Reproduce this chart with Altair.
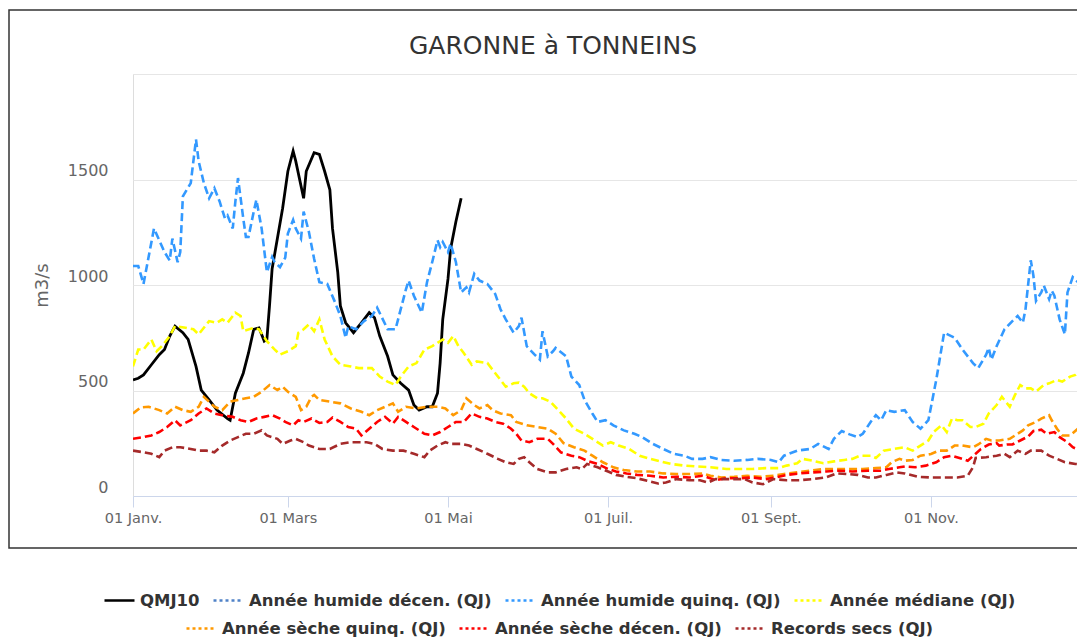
import json
import datetime as dt
import altair as alt
import pandas as pd

YEAR = 2023
TITLE = "GARONNE à TONNEINS"
Y_TITLE = "m3/s"
TICK_MONTHS = [1, 3, 5, 7, 9, 11]
TICK_LABELS = ["01 Janv.", "01 Mars", "01 Mai", "01 Juil.", "01 Sept.", "01 Nov."]
Y_TICKS = [0, 500, 1000, 1500, 2000]

ROW1 = ["QMJ10", "Année humide décen. (QJ)", "Année humide quinq. (QJ)", "Année médiane (QJ)"]
ROW1_COLORS = ["#000000", "#5082c8", "#3399ff", "#ffff00"]
ROW2 = ["Année sèche quinq. (QJ)", "Année sèche décen. (QJ)", "Records secs (QJ)"]
ROW2_COLORS = ["#ff9900", "#ff0000", "#a52a2a"]

QMJ10_DAYS = [0, 2, 4, 7, 10, 12, 14, 16, 19, 21, 24, 26, 29, 32, 36, 37, 39, 42, 44, 46, 48, 50, 51,
              52, 53, 55, 57, 59, 61, 62, 65, 66, 69, 71, 73, 75, 76, 78, 79, 81, 84, 87, 90, 92, 94,
              97, 99, 102, 105, 107, 109, 112, 114, 116, 117, 118, 120, 121, 123, 125]
QMJ10_VALS = [550, 558, 574, 622, 670, 694, 758, 805, 774, 742, 614, 502, 455, 407, 367, 359, 487, 582,
              678, 790, 797, 734, 742, 901, 1077, 1220, 1364, 1539, 1635, 1587, 1411, 1539, 1627, 1619,
              1539, 1451, 1268, 1061, 901, 821, 774, 821, 869, 845, 758, 662, 574, 534, 502, 431, 407,
              423, 423, 487, 630, 837, 1029, 1172, 1300, 1411]

HUMQ_DAYS = [0, 2, 4, 8, 12, 14, 15, 17, 18, 19, 22, 24, 25, 27, 29, 31, 33, 35, 36, 38, 39, 40, 42,
             43, 44, 46, 47, 49, 51, 53, 54, 56, 58, 59, 61, 62, 64, 65, 67, 69, 71, 74, 77, 79, 81,
             82, 85, 88, 91, 93, 97, 100, 104, 105, 107, 110, 112, 114, 116, 117, 118, 120, 121, 123,
             125, 127, 128, 130, 132, 135, 138, 140, 142, 145, 147, 148, 150, 153, 155, 156, 158, 160,
             161, 165, 167, 170, 172, 175, 177, 180, 183, 187, 191, 194, 198, 202, 206, 210, 213, 217,
             220, 224, 229, 234, 238, 243, 246, 248, 253, 258, 261, 265, 267, 270, 273, 276, 278, 281,
             283, 285, 287, 290, 294, 297, 300, 303, 306, 309, 313, 316, 320, 322, 325, 326, 327, 329,
             332, 335, 337, 339, 340, 342, 343, 344, 346, 347, 349, 350, 351, 353, 355, 356, 358, 360,
             364]
HUMQ_VALS = [1090, 1090, 1005, 1268, 1156, 1116, 1220, 1108, 1156, 1420, 1483, 1690, 1587, 1483, 1411,
             1459, 1396, 1316, 1330, 1268, 1396, 1507, 1316, 1228, 1228, 1348, 1404, 1268, 1061, 1133,
             1108, 1085, 1130, 1244, 1308, 1268, 1220, 1348, 1252, 1124, 1013, 1005, 917, 853, 750, 805,
             790, 829, 853, 893, 790, 790, 981, 1021, 949, 869, 1013, 1109, 1212, 1180, 1204, 1156, 1196,
             1109, 965, 989, 965, 1053, 1021, 1005, 957, 885, 837, 774, 805, 845, 710, 670, 646, 781, 662,
             686, 702, 662, 566, 526, 455, 391, 351, 359, 335, 311, 295, 279, 247, 223, 200, 191, 176,
             176, 184, 171, 167, 171, 176, 171, 160, 191, 215, 223, 247, 223, 271, 308, 292, 279, 295,
             351, 383, 359, 407, 399, 407, 351, 319, 359, 550, 774, 750, 694, 630, 606, 670, 702, 646,
             710, 790, 829, 853, 821, 885, 1117, 1045, 925, 965, 997, 933, 973, 949, 837, 766, 965, 1037,
             1013, 1005]

MED_DAYS = [0, 2, 4, 7, 9, 11, 14, 16, 20, 23, 25, 29, 32, 34, 36, 39, 41, 42, 46, 48, 51, 54, 56, 59,
            62, 63, 65, 67, 69, 71, 73, 76, 79, 83, 86, 91, 94, 97, 100, 102, 105, 108, 111, 114, 116,
            118, 120, 122, 124, 126, 129, 131, 135, 137, 140, 142, 145, 147, 149, 151, 154, 156, 159,
            162, 165, 168, 172, 176, 179, 182, 185, 189, 193, 197, 201, 205, 210, 215, 220, 226, 231,
            236, 241, 246, 249, 253, 255, 259, 263, 267, 271, 274, 277, 281, 283, 286, 290, 294, 297,
            300, 303, 305, 308, 310, 312, 314, 316, 319, 321, 324, 326, 329, 331, 334, 336, 338, 340,
            342, 344, 347, 349, 352, 354, 357, 359, 361, 364]
MED_VALS = [614, 694, 694, 742, 686, 710, 758, 805, 797, 790, 766, 829, 821, 837, 821, 869, 853, 781,
            797, 790, 734, 694, 670, 686, 710, 774, 790, 813, 781, 837, 742, 662, 622, 614, 606, 606,
            566, 542, 526, 566, 614, 630, 694, 710, 726, 742, 726, 758, 710, 678, 622, 638, 630, 598,
            550, 518, 534, 537, 518, 487, 463, 463, 447, 407, 367, 319, 295, 263, 239, 255, 239, 223,
            191, 176, 164, 152, 144, 140, 136, 128, 128, 128, 132, 132, 144, 155, 176, 167, 155, 164,
            171, 176, 191, 191, 180, 215, 223, 231, 215, 239, 263, 303, 335, 303, 367, 359, 359, 327,
            327, 343, 391, 431, 470, 423, 479, 526, 510, 510, 495, 526, 534, 550, 542, 566, 574, 598,
            598]

SECQ_DAYS = [0, 3, 6, 10, 13, 16, 19, 22, 25, 27, 31, 34, 37, 40, 43, 46, 49, 52, 55, 57, 59, 62, 64,
             66, 68, 69, 71, 75, 79, 83, 87, 90, 93, 96, 99, 101, 104, 108, 112, 116, 119, 122, 125,
             127, 130, 132, 135, 137, 140, 144, 146, 150, 154, 158, 161, 164, 168, 172, 175, 179, 183,
             187, 192, 197, 202, 207, 212, 217, 220, 224, 229, 234, 239, 244, 248, 253, 258, 263, 268,
             273, 278, 283, 287, 289, 292, 294, 297, 300, 304, 307, 310, 313, 316, 320, 322, 325, 327,
             330, 334, 336, 339, 341, 344, 346, 349, 350, 352, 354, 357, 360, 363]
SECQ_VALS = [391, 420, 423, 407, 391, 423, 407, 399, 423, 470, 423, 407, 447, 455, 463, 470, 494, 526,
             502, 518, 494, 470, 407, 423, 470, 479, 455, 447, 439, 415, 399, 383, 407, 423, 439, 399,
             423, 415, 423, 423, 415, 383, 407, 463, 431, 415, 431, 407, 391, 383, 351, 335, 327, 319,
             295, 251, 231, 215, 191, 160, 136, 123, 116, 116, 107, 104, 104, 107, 96, 88, 91, 96, 91,
             96, 104, 112, 120, 128, 128, 128, 128, 132, 136, 160, 176, 167, 171, 191, 199, 215, 215,
             239, 239, 231, 244, 271, 263, 263, 271, 287, 311, 335, 351, 367, 383, 359, 319, 287, 287,
             319, 359]

SECD_DAYS = [0, 4, 7, 10, 13, 16, 18, 22, 25, 28, 31, 34, 38, 41, 44, 47, 50, 53, 56, 58, 61, 63, 65,
             68, 71, 74, 76, 79, 82, 85, 87, 90, 93, 96, 99, 101, 104, 107, 111, 114, 117, 120, 123,
             126, 129, 132, 135, 138, 141, 144, 146, 148, 151, 154, 158, 160, 163, 167, 170, 173, 177,
             181, 184, 188, 192, 197, 202, 207, 212, 217, 219, 222, 226, 231, 236, 241, 245, 249, 254,
             259, 264, 269, 274, 280, 285, 288, 292, 294, 298, 302, 306, 309, 312, 316, 318, 321, 323,
             326, 329, 330, 333, 335, 338, 341, 343, 346, 348, 351, 353, 356, 358, 361, 364]
SECD_VALS = [271, 279, 287, 303, 327, 359, 335, 359, 391, 415, 391, 383, 375, 359, 351, 367, 375, 383,
             367, 351, 335, 359, 351, 367, 346, 351, 372, 351, 327, 319, 287, 319, 351, 375, 343, 375,
             351, 327, 295, 287, 303, 327, 351, 351, 391, 375, 367, 351, 343, 319, 295, 263, 255, 271,
             271, 247, 207, 191, 184, 167, 152, 128, 116, 107, 100, 96, 88, 91, 88, 96, 88, 75, 84, 84,
             88, 80, 88, 100, 107, 112, 116, 120, 116, 120, 120, 128, 136, 140, 136, 144, 160, 184, 191,
             176, 167, 200, 223, 244, 251, 239, 244, 244, 263, 282, 308, 314, 295, 303, 279, 255, 231,
             215, 215]

REC_DAYS = [0, 4, 7, 10, 12, 15, 18, 22, 25, 28, 31, 34, 37, 40, 43, 46, 49, 51, 55, 57, 60, 62, 65,
            67, 71, 75, 79, 83, 86, 89, 92, 95, 99, 103, 107, 111, 113, 116, 119, 121, 125, 128, 131,
            135, 139, 142, 145, 147, 149, 151, 154, 158, 161, 165, 169, 171, 173, 177, 181, 184, 188,
            192, 196, 200, 203, 207, 212, 216, 219, 222, 227, 233, 236, 240, 244, 249, 254, 259, 264,
            268, 272, 276, 280, 283, 287, 291, 294, 299, 304, 309, 314, 318, 320, 321, 325, 329, 332,
            334, 337, 340, 342, 346, 349, 352, 355, 359, 363]
REC_VALS = [215, 207, 200, 184, 215, 231, 231, 223, 215, 215, 207, 239, 263, 279, 295, 295, 311, 287,
            271, 247, 263, 271, 255, 239, 223, 223, 247, 255, 255, 255, 247, 223, 215, 215, 200, 184,
            215, 239, 255, 247, 247, 239, 223, 200, 176, 160, 152, 176, 184, 160, 128, 112, 112, 128,
            136, 128, 152, 136, 116, 100, 91, 84, 72, 59, 64, 80, 75, 75, 64, 80, 80, 80, 64, 56, 80,
            75, 75, 80, 88, 107, 104, 100, 88, 88, 100, 112, 107, 91, 88, 88, 88, 96, 136, 180, 184,
            191, 200, 184, 215, 200, 215, 215, 191, 176, 160, 152, 148]

SERIES = {
    ROW1[0]: (QMJ10_DAYS, QMJ10_VALS),
    ROW1[2]: (HUMQ_DAYS, HUMQ_VALS),
    ROW1[3]: (MED_DAYS, MED_VALS),
    ROW2[0]: (SECQ_DAYS, SECQ_VALS),
    ROW2[1]: (SECD_DAYS, SECD_VALS),
    ROW2[2]: (REC_DAYS, REC_VALS),
}

start = dt.date(YEAR, 1, 1)
records = []
for name, (days, vals) in SERIES.items():
    for d, v in zip(days, vals):
        records.append({"date": (start + dt.timedelta(days=d)).isoformat(), "serie": name, "value": v})
df = pd.DataFrame(records)


def dtm(m, d, h=0, mi=0):
    return alt.DateTime(year=YEAR, month=m, date=d, hours=h, minutes=mi, utc=True)


month_labels = [""] * 12
for m, lab in zip(TICK_MONTHS, TICK_LABELS):
    month_labels[m - 1] = lab
x_label_expr = json.dumps(month_labels, ensure_ascii=False) + "[utcmonth(datum.value)]"

FONT = "DejaVu Sans"

x_enc = alt.X(
    "date:T",
    scale=alt.Scale(type="utc", domain=[dtm(1, 1), dtm(12, 26, 14, 53)]),
    axis=alt.Axis(
        values=[dtm(m, 1) for m in TICK_MONTHS],
        labelExpr=x_label_expr,
        title=None,
        grid=False,
        domainColor="#ccd6eb",
        tickColor="#ccd6eb",
        tickSize=11,
        labelColor="#666666",
        labelFont=FONT,
        labelFontSize=14.5,
        labelPadding=4,
        labelAngle=0,
        labelFlush=False,
        labelOverlap=False,
    ),
)

y_enc = alt.Y(
    "value:Q",
    scale=alt.Scale(domain=[0, 2000], nice=False, zero=True),
    axis=alt.Axis(
        values=Y_TICKS,
        labelExpr="datum.value >= 2000 ? '' : '' + datum.value",
        title=Y_TITLE,
        titleX=-91,
        titleY=211,
        titleAngle=-90,
        titleAlign="center",
        titleBaseline="middle",
        titleFont=FONT,
        titleFontSize=18,
        titleFontWeight="normal",
        titleColor="#666666",
        domain=False,
        ticks=False,
        tickSize=0,
        gridColor="#e6e6e6",
        gridWidth=1,
        labelColor="#666666",
        labelFont=FONT,
        labelFontSize=16,
        labelPadding=25,
        labelBaseline="alphabetic",
        labelOffset=-4,
    ),
)

legend_common = dict(
    orient="none",
    direction="horizontal",
    title=None,
    symbolType="stroke",
    symbolSize=900,
    symbolStrokeWidth=2.6,
    labelFont=FONT,
    labelFontSize=16.5,
    labelFontWeight="bold",
    labelColor="#333333",
    labelOffset=4,
    columnPadding=8,
    padding=0,
    labelLimit=400,
)

legend1 = alt.Legend(
    legendX=-30,
    legendY=510,
    symbolDash={"expr": "datum.value == 'QMJ10' ? [1, 0] : [3, 3]"},
    **legend_common,
)
legend2 = alt.Legend(legendX=52, legendY=538, symbolDash=[3, 3], **legend_common)

color_enc = alt.Color("serie:N", scale=alt.Scale(domain=ROW1, range=ROW1_COLORS), legend=legend1)
stroke_enc = alt.Stroke("serie:N", scale=alt.Scale(domain=ROW2, range=ROW2_COLORS), legend=legend2)

base = alt.Chart(df)

frame = alt.Chart(alt.Data(values=[{"k": 1}])).mark_rect(
    fill="transparent", stroke="#333333", strokeWidth=1.5
).encode(
    x=alt.value(-124), x2=alt.value(1000), y=alt.value(-64), y2=alt.value(474)
)

qmj = base.transform_filter(alt.datum.serie == ROW1[0]).mark_line(
    strokeWidth=2.8, clip=True
).encode(x=x_enc, y=y_enc, color=color_enc, detail="serie:N")

row1_dash = base.transform_filter(
    alt.FieldOneOfPredicate(field="serie", oneOf=ROW1[1:])
).mark_line(strokeWidth=2.6, strokeDash=[8, 4], clip=True).encode(
    x=x_enc, y=y_enc, color=color_enc, detail="serie:N"
)

row2_dash = base.transform_filter(
    alt.FieldOneOfPredicate(field="serie", oneOf=ROW2)
).mark_line(strokeWidth=2.6, strokeDash=[8, 4], clip=True).encode(
    x=x_enc, y=y_enc, stroke=stroke_enc, detail="serie:N"
)

chart = alt.layer(frame, qmj, row1_dash, row2_dash).properties(
    width=944,
    height=422,
    padding={"left": 125, "top": 66, "right": 0, "bottom": 141},
    autosize=alt.AutoSizeParams(type="none"),
    title=alt.TitleParams(
        TITLE,
        anchor="middle",
        frame="group",
        dx=-52,
        offset=-50,
        font=FONT,
        fontSize=25,
        fontWeight="normal",
        color="#333333",
    ),
).configure_view(stroke=None).configure(background="white")

chart.save("out.html", embed_options={"renderer": "svg", "actions": False})
